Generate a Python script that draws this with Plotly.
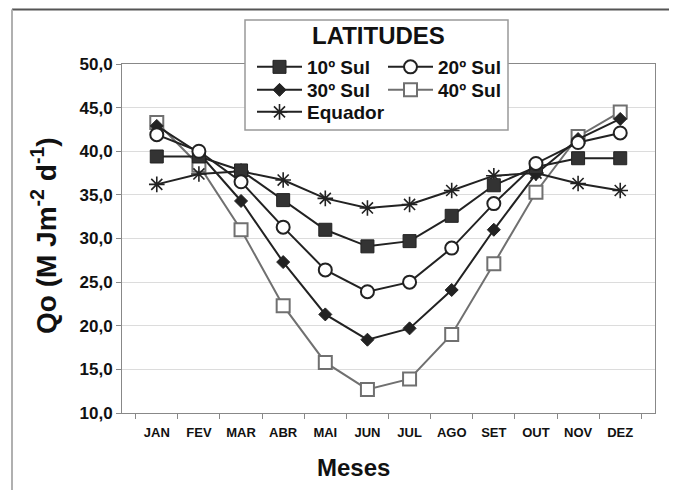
import plotly.graph_objects as go

meses = ["JAN", "FEV", "MAR", "ABR", "MAI", "JUN", "JUL", "AGO", "SET", "OUT", "NOV", "DEZ"]
sul10 = [39.4, 39.4, 37.8, 34.4, 31.0, 29.1, 29.7, 32.6, 36.1, 38.2, 39.2, 39.2]
sul20 = [41.9, 40.0, 36.5, 31.3, 26.4, 23.9, 25.0, 28.9, 34.0, 38.6, 41.0, 42.1]
sul30 = [42.9, 39.8, 34.3, 27.3, 21.3, 18.4, 19.7, 24.1, 31.0, 37.4, 41.4, 43.7]
sul40 = [43.3, 38.4, 31.0, 22.3, 15.8, 12.7, 13.9, 19.0, 27.1, 35.3, 41.7, 44.5]
equador = [36.2, 37.4, 37.7, 36.7, 34.6, 33.5, 33.9, 35.5, 37.2, 37.5, 36.3, 35.5]
yticks = [10, 15, 20, 25, 30, 35, 40, 45, 50]

# the page body adds an 8 px margin; screen coordinates are mapped back here
OFF = 8
W, H = 677, 490
PL, PR, PT, PB = 122, 655, 64, 413          # plot area in screen pixels
ML, MT = PL - OFF, PT - OFF
PW, PH = PR - PL, PB - PT
MR, MB = W - ML - PW, H - MT - PH


def px(x):
    return (x - PL) / PW


def py(y):
    return (PB - y) / PH


FONT = "Liberation Sans, Arial, sans-serif"
DARK = "#222222"
GREY = "#707070"

fig = go.Figure()

fig.add_trace(go.Scatter(x=meses, y=sul40, name="40º Sul", legend="legend4",
                         mode="lines+markers", line=dict(color=GREY, width=2),
                         marker=dict(symbol="square", size=13, color="white",
                                     line=dict(color=GREY, width=2))))
fig.add_trace(go.Scatter(x=meses, y=equador, name="Equador", legend="legend5",
                         mode="lines+markers", line=dict(color=DARK, width=2),
                         marker=dict(symbol="asterisk-open", size=13,
                                     line=dict(color=DARK, width=1.6))))
fig.add_trace(go.Scatter(x=meses, y=sul30, name="30º Sul", legend="legend3",
                         mode="lines+markers", line=dict(color=DARK, width=2),
                         marker=dict(symbol="diamond", size=10, color=DARK,
                                     line=dict(color=DARK, width=1))))
fig.add_trace(go.Scatter(x=meses, y=sul10, name="10º Sul", legend="legend",
                         mode="lines+markers", line=dict(color=DARK, width=2),
                         marker=dict(symbol="square", size=13, color="#333333",
                                     line=dict(color=DARK, width=1))))
fig.add_trace(go.Scatter(x=meses, y=sul20, name="20º Sul", legend="legend2",
                         mode="lines+markers", line=dict(color=DARK, width=2),
                         marker=dict(symbol="circle", size=13, color="white",
                                     line=dict(color=DARK, width=2))))

legfont = dict(family=FONT, size=19, color="#111111", weight="bold")


def leg(xs, ys):
    return dict(x=px(xs), y=py(ys), xanchor="left", yanchor="middle",
                bgcolor="rgba(0,0,0,0)", borderwidth=0, font=legfont,
                itemwidth=45, tracegroupgap=0)


fig.update_layout(
    width=W, height=H,
    margin=dict(l=ML, r=MR, t=MT, b=MB),
    paper_bgcolor="white", plot_bgcolor="white",
    separators=",.",
    showlegend=True,
    legend=leg(252, 67),
    legend3=leg(252, 90),
    legend5=leg(252, 112),
    legend2=leg(383, 67),
    legend4=leg(383, 90),
    xaxis=dict(type="category", tickson="boundaries", ticks="outside", ticklen=5,
               tickcolor="#888888", showline=True, linecolor="#888888", linewidth=1,
               mirror=True, showgrid=False, ticklabelstandoff=7,
               tickfont=dict(family=FONT, size=13, color="#111111", weight="bold")),
    yaxis=dict(range=[10, 50], tickvals=yticks, tickformat=".1f", ticks="outside",
               ticklen=5, tickcolor="#888888", showline=True, linecolor="#888888",
               linewidth=1, mirror=True, showgrid=True, gridcolor="#dcdcdc",
               zeroline=False,
               tickfont=dict(family=FONT, size=17, color="#111111", weight="bold")),
    shapes=[
        dict(type="rect", xref="paper", yref="paper", x0=px(245), x1=px(508),
             y0=py(130), y1=py(20), fillcolor="white",
             line=dict(color="#999999", width=1.5), layer="above"),
        dict(type="line", xref="paper", yref="paper", x0=px(12), x1=px(690),
             y0=py(9.5), y1=py(9.5), line=dict(color="#555555", width=2)),
        dict(type="line", xref="paper", yref="paper", x0=px(12), x1=px(12),
             y0=py(9.5), y1=py(500), line=dict(color="#b0b0b0", width=2)),
    ],
    annotations=[
        dict(text="LATITUDES", xref="paper", yref="paper", x=px(378), y=py(36),
             xanchor="center", yanchor="middle", showarrow=False,
             font=dict(family=FONT, size=24, color="#111111", weight="bold")),
        dict(text="Meses", xref="paper", yref="paper", x=px(353), y=py(468),
             xanchor="center", yanchor="middle", showarrow=False,
             font=dict(family=FONT, size=24, color="#111111", weight="bold")),
        dict(text="Qo (M Jm<sup>-2</sup> d<sup>-1</sup>)", xref="paper", yref="paper",
             x=px(44), y=py(236), xanchor="center", yanchor="middle", textangle=-90,
             showarrow=False,
             font=dict(family=FONT, size=28, color="#111111", weight="bold")),
    ],
)

fig.write_html("out.html")
